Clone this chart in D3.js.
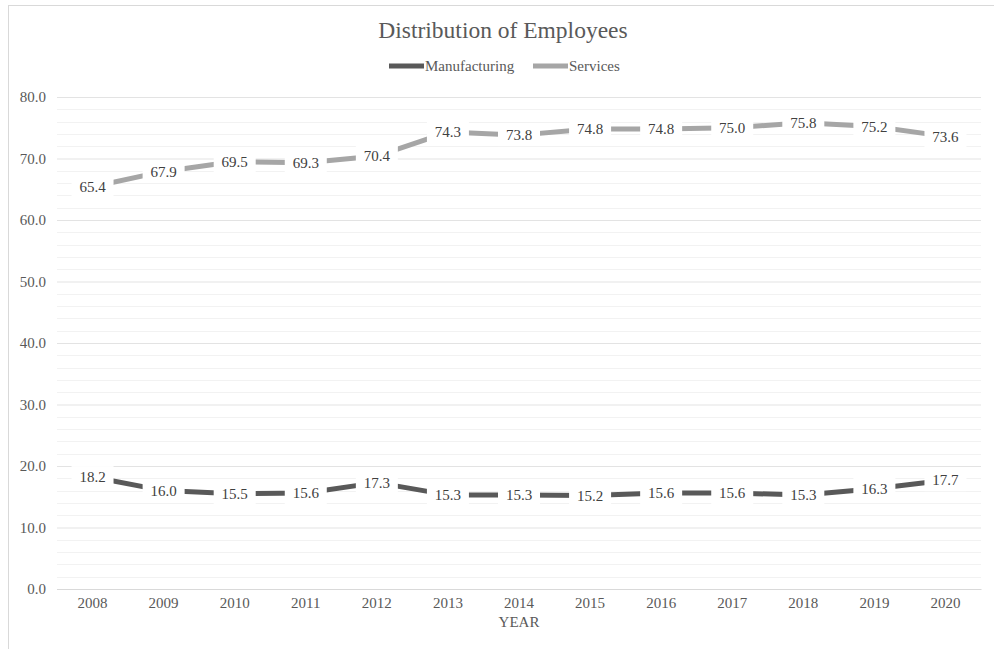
<!DOCTYPE html>
<html>
<head>
<meta charset="utf-8">
<script src="https://cdn.jsdelivr.net/npm/d3@7"></script>
<style>
  body { margin: 0; background: #fff; }
  svg { display: block; font-family: "Liberation Serif", "Times New Roman", serif; }
</style>
</head>
<body>
<div class="canvas"></div>
<script>
const dims = { width: 994, height: 649 };

// data
const years = ['2008', '2009', '2010', '2011', '2012', '2013', '2014', '2015', '2016', '2017', '2018', '2019', '2020'];
const manufacturing = [18.2, 16.0, 15.5, 15.6, 17.3, 15.3, 15.3, 15.2, 15.6, 15.6, 15.3, 16.3, 17.7];
const services = [65.4, 67.9, 69.5, 69.3, 70.4, 74.3, 73.8, 74.8, 74.8, 75.0, 75.8, 75.2, 73.6];
const yTicks = [0, 10, 20, 30, 40, 50, 60, 70, 80];
const minorTicks = d3.range(0, 81, 2);

const series = [
  { name: 'Manufacturing', values: manufacturing, color: '#595959' },
  { name: 'Services', values: services, color: '#a6a6a6' }
];

const fontSize = '15px';

// plot area
const plot = { left: 57, right: 981, top: 97, bottom: 589 };

const svg = d3.select('.canvas')
  .append('svg')
    .attr('width', dims.width)
    .attr('height', dims.height);

// chart border
svg.append('rect')
  .attr('x', 8.5)
  .attr('y', 5.5)
  .attr('width', 1000)
  .attr('height', 700)
  .attr('fill', 'none')
  .attr('stroke', '#d9d9d9');

// scales
const x = d3.scaleBand()
  .domain(years)
  .range([plot.left, plot.right]);

const y = d3.scaleLinear()
  .domain([0, 80])
  .range([plot.bottom, plot.top]);

// minor gridlines
svg.append('g')
  .selectAll('line')
  .data(minorTicks.filter(d => d % 10 !== 0))
  .join('line')
    .attr('x1', plot.left)
    .attr('x2', plot.right)
    .attr('y1', d => Math.round(y(d)) + 0.5)
    .attr('y2', d => Math.round(y(d)) + 0.5)
    .attr('stroke', '#f2f2f2');

// major gridlines via axis
const yAxis = svg.append('g')
  .attr('transform', `translate(${plot.left}, 0)`)
  .call(d3.axisLeft(y)
    .tickValues(yTicks)
    .tickFormat(d3.format('.1f'))
    .tickSize(-(plot.right - plot.left))
    .tickPadding(11));

yAxis.select('.domain').remove();
yAxis.selectAll('.tick line')
  .attr('stroke', d => d === 0 ? '#d9d9d9' : '#e3e3e3');
yAxis.selectAll('.tick text')
  .attr('fill', '#595959')
  .style('font-size', fontSize)
  .style('font-family', '"Liberation Serif", serif');

// x axis
const xAxis = svg.append('g')
  .attr('transform', `translate(0, ${plot.bottom})`)
  .call(d3.axisBottom(x).tickSize(0).tickPadding(8));

xAxis.select('.domain').attr('stroke', '#d9d9d9');
xAxis.selectAll('.tick text')
  .attr('fill', '#595959')
  .style('font-size', fontSize)
  .style('font-family', '"Liberation Serif", serif');

// axis title
svg.append('text')
  .attr('x', (plot.left + plot.right) / 2)
  .attr('y', 627)
  .attr('text-anchor', 'middle')
  .attr('fill', '#595959')
  .style('font-size', fontSize)
  .text('YEAR');

// chart title
svg.append('text')
  .attr('x', 503)
  .attr('y', 38)
  .attr('text-anchor', 'middle')
  .attr('fill', '#595959')
  .style('font-size', '23.5px')
  .text('Distribution of Employees');

// legend
const legend = svg.append('g')
  .selectAll('g')
  .data(series)
  .join('g')
    .attr('transform', (d, i) => `translate(${i === 0 ? 389 : 533}, 66)`);

legend.append('line')
  .attr('x1', 0)
  .attr('x2', 35)
  .attr('stroke', d => d.color)
  .attr('stroke-width', 5);

legend.append('text')
  .attr('x', 36)
  .attr('dy', '0.35em')
  .attr('fill', '#595959')
  .style('font-size', fontSize)
  .text(d => d.name);

// lines
const line = d3.line()
  .x((d, i) => x(years[i]) + x.bandwidth() / 2)
  .y(d => y(d));

svg.append('g')
  .selectAll('path')
  .data(series)
  .join('path')
    .attr('fill', 'none')
    .attr('stroke', d => d.color)
    .attr('stroke-width', 5)
    .attr('stroke-linejoin', 'round')
    .attr('d', d => line(d.values));

// data labels with white background
const labels = svg.append('g')
  .selectAll('g')
  .data(series.flatMap(s => s.values.map((v, i) => ({ v, year: years[i] }))))
  .join('g')
    .attr('transform', d => `translate(${x(d.year) + x.bandwidth() / 2}, ${y(d.v)})`);

labels.append('rect')
  .attr('x', -21)
  .attr('y', -11)
  .attr('width', 42)
  .attr('height', 22)
  .attr('fill', '#fff');

labels.append('text')
  .attr('text-anchor', 'middle')
  .attr('dy', '0.35em')
  .attr('fill', '#404040')
  .style('font-size', fontSize)
  .text(d => d3.format('.1f')(d.v));
</script>
</body>
</html>
